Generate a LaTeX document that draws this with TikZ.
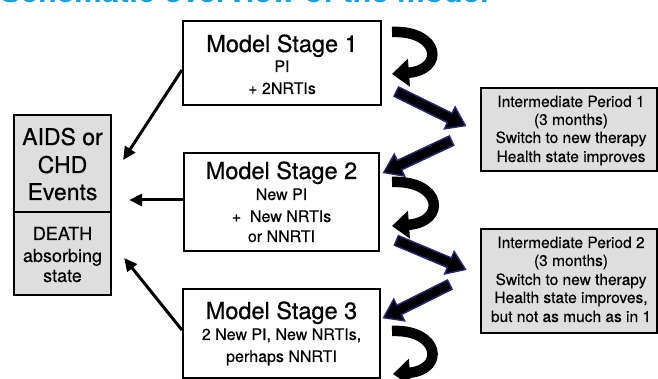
\documentclass[tikz,border=0pt]{standalone}
\usepackage{fontspec}
\setmainfont{TeX Gyre Heros}
\newfontfamily\medfont[FakeBold=0.6]{TeX Gyre Heros}
\newfontfamily\semifont[FakeBold=0.3]{TeX Gyre Heros}
\usetikzlibrary{arrows.meta,shapes.arrows}
\definecolor{titlecyan}{RGB}{22,160,228}
\definecolor{navyedge}{RGB}{40,40,120}
\definecolor{boxgray}{RGB}{222,222,222}
\begin{document}
\begin{tikzpicture}[x=1pt,y=1pt,
  stagebox/.style={draw, line width=2.2pt, fill=white, inner sep=0},
  eventbox/.style={draw, line width=2.2pt, fill=boxgray, inner sep=0, minimum width=97},
  periodbox/.style={draw, line width=1.6pt, fill=boxgray, inner sep=0, minimum width=176},
  lbl/.style={anchor=base, inner sep=0},
  bigtxt/.style={lbl, font=\medfont\fontsize{23.5}{28}\selectfont},
  subtxt/.style={lbl, font=\semifont\fontsize{16}{19}\selectfont},
  evtxt/.style={lbl, font=\medfont\fontsize{23}{28}\selectfont},
  deathtxt/.style={lbl, font=\semifont\fontsize{18}{22}\selectfont},
  iptxt/.style={lbl, font=\semifont\fontsize{15.5}{18}\selectfont},
  blackarrow/.style={line width=3pt, -{Triangle[length=13pt,width=12pt]}},
  curvearrow/.style={line width=10.5pt, line cap=butt, -{Triangle[length=17pt,width=27pt]}},
  bluearrow/.style={single arrow, draw=navyedge, fill=black, line width=1.4pt,
    inner xsep=0pt, inner ysep=4.5pt, minimum width=0pt,
    single arrow head extend=7pt, single arrow tip angle=70}
]
\useasboundingbox (0,0) rectangle (658,379);
\clip (0,0) rectangle (658,379);

% title (clipped at the top)
\node[anchor=base west, inner sep=0, text=titlecyan,
  font=\bfseries\fontsize{31}{36}\selectfont] (title) at (0,376) {Schematic overview of the model};

% stage boxes
\node[stagebox, minimum width=198, minimum height=84] (s1) at (282,316) {};
\node[stagebox, minimum width=195, minimum height=98] (s2) at (281.5,177) {};
\node[stagebox, minimum width=197, minimum height=89] (s3) at (281.5,45.5) {};

\node[bigtxt] (s1a) at (282,327) {Model Stage 1};
\node[subtxt] (s1b) at (282,307) {PI};
\node[subtxt] (s1c) at (282,285) {+ 2NRTIs};

\node[bigtxt] (s2a) at (281.5,200) {Model Stage 2};
\node[subtxt] (s2b) at (281.5,179) {New PI};
\node[subtxt] (s2c) at (281.5,157) {+\ \ New NRTIs};
\node[subtxt] (s2d) at (281.5,137) {or NNRTI};

\node[bigtxt] (s3a) at (281.5,60) {Model Stage 3};
\node[subtxt] (s3b) at (281.5,39) {2 New PI, New NRTIs,};
\node[subtxt] (s3c) at (281.5,17) {perhaps NNRTI};

% event boxes
\node[eventbox, minimum height=97] (ev) at (62.5,215.5) {};
\node[eventbox, minimum height=83] (death) at (62.5,125.5) {};
\node[evtxt] (ev1) at (62.5,234) {AIDS or};
\node[evtxt] (ev2) at (62.5,206) {CHD};
\node[evtxt] (ev3) at (62.5,179) {Events};
\node[deathtxt] (d1) at (62.5,139) {DEATH};
\node[deathtxt] (d2) at (62.5,117) {absorbing};
\node[deathtxt] (d3) at (62.5,97) {state};

% intermediate periods
\node[periodbox, minimum height=83] (ip1) at (569,249.5) {};
\node[iptxt] (ip1a) at (571,272) {Intermediate Period 1};
\node[iptxt] (ip1b) at (571,254) {(3 months)};
\node[iptxt] (ip1c) at (571,236) {Switch to new therapy};
\node[iptxt] (ip1d) at (571,217) {Health state improves};

\node[periodbox, minimum height=104] (ip2) at (569,98) {};
\node[iptxt] (ip2a) at (571,131) {Intermediate Period 2};
\node[iptxt] (ip2b) at (571,113) {(3 months)};
\node[iptxt] (ip2c) at (571,94) {Switch to new therapy};
\node[iptxt] (ip2d) at (571,76) {Health state improves,};
\node[iptxt] (ip2e) at (571,57) {but not as much as in 1};

% arrows to the event boxes
\draw[blackarrow] ([yshift=-7pt]s1.west) -- ([xshift=11pt,yshift=3.5pt]ev.east);
\draw[blackarrow, shorten >=17pt] ([yshift=2pt]s2.west) -- ([yshift=2pt]s2.west -| ev.east);
\draw[blackarrow] ([yshift=3.5pt]s3.west) -- ([xshift=12pt,yshift=-4.5pt]death.east);

% curved (stay) arrows
\draw[curvearrow] (392,347) .. controls (440,349) and (445,309) .. (392,305);
\draw[curvearrow] (392,197) .. controls (442,199) and (447,157) .. (392,153);
\draw[curvearrow] (392,48) .. controls (440,50) and (445,9) .. (393,5);

% blue block arrows
\node[bluearrow, minimum height=77, rotate=-26.2] (b1) at (427.5,272) {};
\node[bluearrow, minimum height=75, rotate=-154.8] (b2) at (421,224) {};
\node[bluearrow, minimum height=75, rotate=-22.8] (b3) at (427.5,125.5) {};
\node[bluearrow, minimum height=74, rotate=-153.4] (b4) at (420,79.5) {};
\end{tikzpicture}
\end{document}
